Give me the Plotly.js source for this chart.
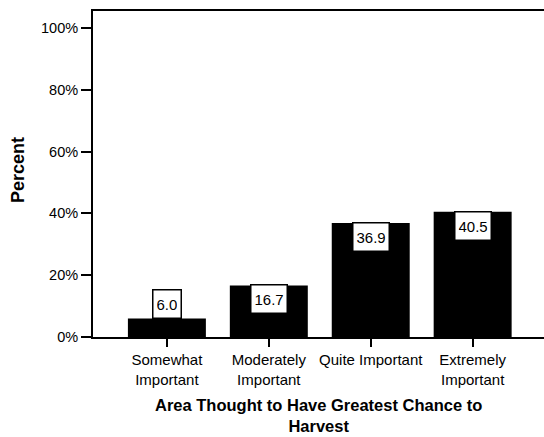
<!DOCTYPE html>
<html>
<head>
<meta charset="utf-8">
<script src="https://cdn.plot.ly/plotly-3.0.1.min.js"></script>
<style>html,body{margin:0;padding:0;background:#fff}</style>
</head>
<body>
<div id="chart" style="width:544px;height:437px"></div>
<script>
const categories = ["Somewhat<br>Important", "Moderately<br>Important", "Quite Important", "Extremely<br>Important"];
const percents = [6.0, 16.7, 36.9, 40.5];
const tickVals = [0, 20, 40, 60, 80, 100];
const tickText = ["0%", "20%", "40%", "60%", "80%", "100%"];
const xTitle = "Area Thought to Have Greatest Chance to<br>Harvest";
const yTitle = "Percent";

const xIdx = categories.map((c, i) => i);
const trace = {
  type: "bar",
  x: xIdx,
  y: percents,
  width: 0.765,
  marker: {color: "#000000", line: {width: 0}},
  hoverinfo: "skip"
};

const font = "Liberation Sans, Arial, sans-serif";

const annotations = percents.map((v, i) => ({
  x: i, y: v, xref: "x", yref: "y",
  text: v.toFixed(1),
  showarrow: false,
  yanchor: v < 10 ? "bottom" : "top",
  yshift: v < 10 ? -1 : 1,
  height: 21,
  bgcolor: "#ffffff",
  bordercolor: "#000000",
  borderwidth: 1.5,
  borderpad: 3,
  font: {family: font, size: 15, color: "#000"}
}));

annotations.push({
  x: 0.5, y: 0, xref: "paper", yref: "paper",
  xanchor: "center", yanchor: "bottom",
  yshift: -99,
  borderpad: 0,
  showarrow: false,
  text: "<b>" + xTitle + "</b>",
  font: {family: font, size: 16.5, color: "#000"}
});

annotations.push({
  x: 0, y: 0.5, xref: "paper", yref: "paper",
  xanchor: "center", yanchor: "middle",
  xshift: -75, yshift: 4,
  textangle: -90,
  showarrow: false,
  text: "<b>" + yTitle + "</b>",
  font: {family: font, size: 18, color: "#000"}
});

const layout = {
  width: 544, height: 437,
  margin: {l: 93, r: 0, t: 11, b: 100},
  paper_bgcolor: "#ffffff",
  plot_bgcolor: "#ffffff",
  showlegend: false,
  font: {family: font, size: 14, color: "#000"},
  xaxis: {
    range: [-0.725, 3.7],
    tickvals: xIdx,
    ticktext: categories,
    ticks: "outside", ticklen: 8, tickwidth: 2, tickcolor: "#000",
    showline: true, linecolor: "#000", linewidth: 2, mirror: true,
    showgrid: false, zeroline: false,
    tickfont: {size: 15}
  },
  yaxis: {
    range: [0, 105.5],
    tickvals: tickVals,
    ticktext: tickText,
    ticks: "outside", ticklen: 10, tickwidth: 2, tickcolor: "#000",
    showline: true, linecolor: "#000", linewidth: 2,
    showgrid: false, zeroline: false,
    tickfont: {size: 14.5}
  },
  annotations: annotations
};

Plotly.newPlot("chart", [trace], layout, {displayModeBar: false, staticPlot: true});
</script>
</body>
</html>
